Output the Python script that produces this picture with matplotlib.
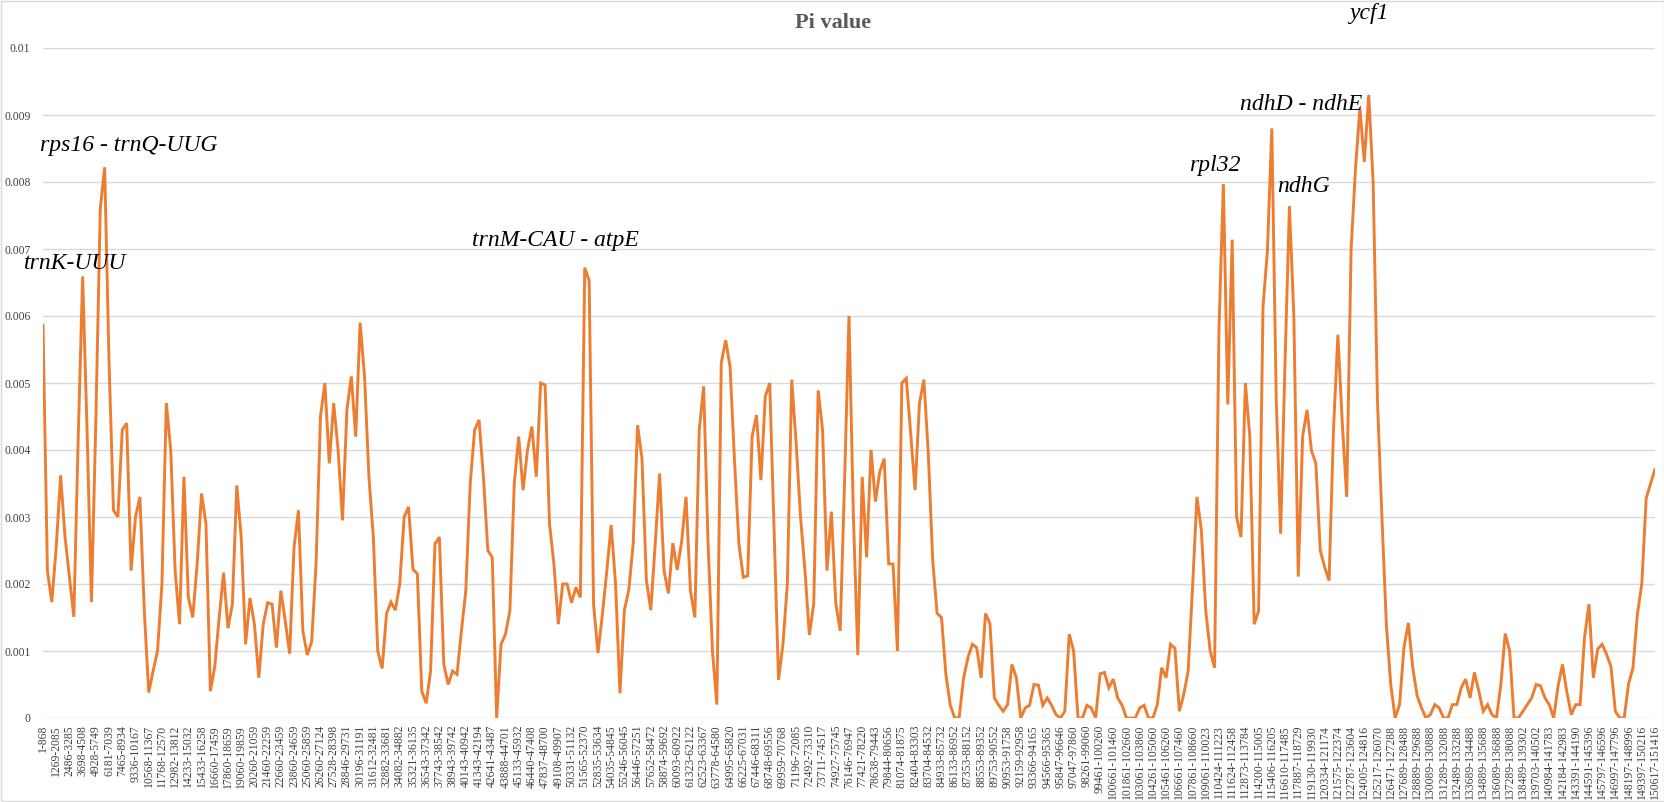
import matplotlib
matplotlib.use('Agg')
import matplotlib.pyplot as plt
from matplotlib.patches import Rectangle
import numpy as np

plt.rcParams['font.family'] = ['Liberation Serif', 'DejaVu Serif']

# window labels shown on the x axis (every 6th window)
window_labels = [
    '1-868', '1269-2085', '2486-3285', '3698-4508', '4928-5749', '6181-7039',
    '7465-8934', '9336-10167', '10568-11367', '11768-12570', '12982-13812',
    '14233-15032', '15433-16258', '16660-17459', '17860-18659', '19060-19859',
    '20260-21059', '21460-22259', '22660-23459', '23860-24659', '25060-25859',
    '26260-27124', '27528-28398', '28846-29731', '30196-31191', '31612-32481',
    '32882-33681', '34082-34882', '35321-36135', '36543-37342', '37743-38542',
    '38943-39742', '40143-40942', '41343-42194', '42641-43487', '43888-44701',
    '45133-45932', '46440-47408', '47837-48700', '49108-49907', '50331-51132',
    '51565-52370', '52835-53634', '54035-54845', '55246-56045', '56446-57251',
    '57652-58472', '58874-59692', '60093-60922', '61323-62122', '62523-63367',
    '63778-64580', '64995-65820', '66225-67031', '67446-68311', '68748-69556',
    '69959-70768', '71196-72085', '72492-73310', '73711-74517', '74927-75745',
    '76146-76947', '77421-78220', '78638-79443', '79844-80656', '81074-81875',
    '82404-83303', '83704-84532', '84933-85732', '86133-86952', '87353-88152',
    '88553-89352', '89753-90552', '90953-91758', '92159-92958', '93366-94165',
    '94566-95365', '95847-96646', '97047-97860', '98261-99060', '99461-100260',
    '100661-101460', '101861-102660', '103061-103860', '104261-105060',
    '105461-106260', '106661-107460', '107861-108660', '109061-110023',
    '110424-111223', '111624-112458', '112873-113784', '114200-115005',
    '115406-116205', '116610-117485', '117887-118729', '119130-119930',
    '120334-121174', '121575-122374', '122787-123604', '124005-124816',
    '125217-126070', '126471-127288', '127689-128488', '128889-129688',
    '130089-130888', '131289-132088', '132489-133288', '133689-134488',
    '134889-135688', '136089-136888', '137289-138088', '138489-139302',
    '139703-140502', '140984-141783', '142184-142983', '143391-144190',
    '144591-145396', '145797-146596', '146997-147796', '148197-148996',
    '149397-150216', '150617-151416',
]

# Pi values, three samples per labelled interval
pi_values = [
    0.00586, 0.00220, 0.00173, 0.00255, 0.00362, 0.00270, 0.00210, 0.00151, 0.00420, 0.00659,
    0.00430, 0.00173, 0.00444, 0.00760, 0.00822, 0.00530, 0.00310, 0.00300, 0.00430, 0.00440,
    0.00220, 0.00300, 0.00330, 0.00160, 0.00038, 0.00070, 0.00100, 0.00200, 0.00470, 0.00400,
    0.00220, 0.00140, 0.00360, 0.00180, 0.00150, 0.00230, 0.00335, 0.00290, 0.00040, 0.00077,
    0.00150, 0.00217, 0.00134, 0.00170, 0.00347, 0.00270, 0.00110, 0.00179, 0.00140, 0.00060,
    0.00140, 0.00172, 0.00170, 0.00105, 0.00190, 0.00145, 0.00096, 0.00255, 0.00310, 0.00130,
    0.00094, 0.00114, 0.00230, 0.00450, 0.00500, 0.00380, 0.00470, 0.00400, 0.00295, 0.00460,
    0.00510, 0.00420, 0.00590, 0.00510, 0.00360, 0.00270, 0.00100, 0.00074, 0.00156, 0.00173,
    0.00161, 0.00200, 0.00300, 0.00315, 0.00222, 0.00215, 0.00040, 0.00022, 0.00070, 0.00260,
    0.00270, 0.00080, 0.00050, 0.00070, 0.00065, 0.00130, 0.00190, 0.00350, 0.00430, 0.00445,
    0.00360, 0.00250, 0.00240, 0.00000, 0.00110, 0.00125, 0.00160, 0.00350, 0.00420, 0.00340,
    0.00400, 0.00435, 0.00360, 0.00500, 0.00497, 0.00290, 0.00230, 0.00140, 0.00200, 0.00200,
    0.00172, 0.00195, 0.00180, 0.00672, 0.00653, 0.00170, 0.00097, 0.00154, 0.00219, 0.00288,
    0.00200, 0.00037, 0.00161, 0.00191, 0.00260, 0.00437, 0.00387, 0.00205, 0.00161, 0.00260,
    0.00365, 0.00220, 0.00186, 0.00261, 0.00221, 0.00263, 0.00330, 0.00190, 0.00150, 0.00430,
    0.00495, 0.00260, 0.00100, 0.00020, 0.00530, 0.00564, 0.00524, 0.00385, 0.00260, 0.00210,
    0.00212, 0.00420, 0.00452, 0.00355, 0.00480, 0.00500, 0.00280, 0.00057, 0.00110, 0.00200,
    0.00505, 0.00410, 0.00300, 0.00220, 0.00124, 0.00171, 0.00489, 0.00430, 0.00220, 0.00308,
    0.00171, 0.00130, 0.00355, 0.00600, 0.00300, 0.00094, 0.00360, 0.00240, 0.00400, 0.00323,
    0.00368, 0.00387, 0.00230, 0.00230, 0.00100, 0.00500, 0.00507, 0.00425, 0.00340, 0.00470,
    0.00505, 0.00395, 0.00236, 0.00156, 0.00150, 0.00065, 0.00019, 0.00000, 0.00000, 0.00059,
    0.00090, 0.00110, 0.00105, 0.00060, 0.00156, 0.00141, 0.00030, 0.00019, 0.00010, 0.00020,
    0.00080, 0.00060, 0.00000, 0.00015, 0.00019, 0.00050, 0.00049, 0.00019, 0.00030, 0.00019,
    0.00005, 0.00000, 0.00010, 0.00125, 0.00100, 0.00000, 0.00000, 0.00019, 0.00015, 0.00000,
    0.00066, 0.00068, 0.00045, 0.00058, 0.00030, 0.00019, 0.00000, 0.00000, 0.00000, 0.00015,
    0.00019, 0.00000, 0.00000, 0.00020, 0.00075, 0.00060, 0.00110, 0.00104, 0.00010, 0.00035,
    0.00070, 0.00195, 0.00330, 0.00280, 0.00160, 0.00100, 0.00075, 0.00580, 0.00797, 0.00468,
    0.00714, 0.00300, 0.00270, 0.00500, 0.00420, 0.00140, 0.00160, 0.00614, 0.00697, 0.00880,
    0.00476, 0.00275, 0.00531, 0.00764, 0.00600, 0.00211, 0.00421, 0.00460, 0.00399, 0.00380,
    0.00250, 0.00225, 0.00205, 0.00430, 0.00572, 0.00440, 0.00330, 0.00700, 0.00820, 0.00910,
    0.00830, 0.00930, 0.00800, 0.00470, 0.00300, 0.00140, 0.00050, 0.00000, 0.00020, 0.00105,
    0.00142, 0.00075, 0.00033, 0.00015, 0.00000, 0.00005, 0.00020, 0.00015, 0.00000, 0.00000,
    0.00020, 0.00020, 0.00045, 0.00058, 0.00030, 0.00068, 0.00040, 0.00010, 0.00020, 0.00005,
    0.00000, 0.00050, 0.00126, 0.00100, 0.00000, 0.00000, 0.00010, 0.00020, 0.00030, 0.00050,
    0.00048, 0.00030, 0.00020, 0.00000, 0.00048, 0.00080, 0.00038, 0.00005, 0.00020, 0.00020,
    0.00120, 0.00170, 0.00060, 0.00103, 0.00110, 0.00095, 0.00077, 0.00010, 0.00000, 0.00000,
    0.00051, 0.00075, 0.00155, 0.00200, 0.00328, 0.00350, 0.00371,
]

y_ticks = [0, 0.001, 0.002, 0.003, 0.004, 0.005, 0.006, 0.007, 0.008, 0.009, 0.01]
y_tick_labels = ['0', '0.001', '0.002', '0.003', '0.004', '0.005',
                 '0.006', '0.007', '0.008', '0.009', '0.01']

# (text, x in label units, y value)
gene_notes = [
    ('rps16 - trnQ-UUG', -0.25, 0.00855),
    ('trnK-UUU', -1.45, 0.00679),
    ('trnM-CAU - atpE', 32.5, 0.00713),
    ('rpl32', 86.7, 0.00825),
    ('ndhD - ndhE', 90.6, 0.00915),
    ('ndhG', 93.4, 0.00793),
    ('ycf1', 98.9, 0.01051),
]

SAMPLES_PER_LABEL = 3
GREY = '#595959'

fig = plt.figure(figsize=(16.65, 8.02), dpi=100)
ax = fig.add_axes([43 / 1665, 1 - 718 / 802, 1612 / 1665, 670 / 802])

x = np.arange(len(pi_values)) / SAMPLES_PER_LABEL
ax.plot(x, pi_values, color='#ED7D31', linewidth=2.1, solid_joinstyle='miter', zorder=3)

ax.set_xlim(0, len(window_labels) - 1)
ax.set_ylim(0, 0.01)
ax.set_yticks(y_ticks)
ax.set_yticklabels(y_tick_labels)
ax.set_xticks(np.arange(len(window_labels)))
ax.set_xticklabels(window_labels, rotation=90)

ax.grid(axis='y', color='#d9d9d9', linewidth=1.0)
ax.set_axisbelow(True)
for s in ax.spines.values():
    s.set_visible(False)
ax.tick_params(axis='both', length=0, colors='#404040', labelsize=8.4)
ax.tick_params(axis='x', pad=5)
ax.tick_params(axis='y', pad=9)

for name, gx, gy in gene_notes:
    ax.text(gx, gy, name, fontsize=17, fontstyle='italic', ha='left', va='center',
            color='black', clip_on=False)

fig.text(833 / 1665, 1 - 23 / 802, 'Pi value', ha='center', va='center',
         fontsize=16, fontweight='bold', color=GREY)

fig.patches.append(Rectangle((0.0005, 0.001), 0.999, 0.998, transform=fig.transFigure,
                             fill=False, edgecolor='#d9d9d9', linewidth=1.0))

fig.savefig('out.png', dpi=100)
